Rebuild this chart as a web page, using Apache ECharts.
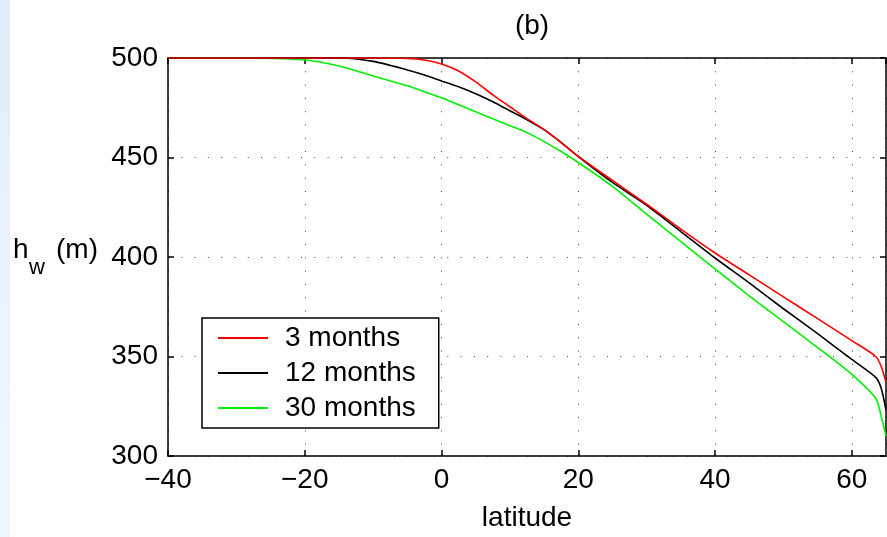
<!DOCTYPE html>
<html>
<head>
<meta charset="utf-8">
<script src="https://cdn.jsdelivr.net/npm/echarts@6/dist/echarts.min.js"></script>
<style>
  html, body { margin: 0; padding: 0; background: #fff; }
  #chart { width: 887px; height: 537px; }
</style>
</head>
<body>
<div id="chart"></div>
<script>
  // latitude samples (deg) shared by all three curves
  var latitude = [-40, -30, -20, -15, -10, -5, -2.5, 0, 2.5, 5, 7.5, 10, 12.5, 15, 17.5, 20, 25, 30, 35, 40, 45, 50, 55, 60, 63.5, 64.3, 65];
  // h_w (m)
  var months3 = [500, 500, 500, 500, 500, 499.8, 499, 497, 493.5, 488, 481.5, 475.5, 469.5, 464, 457.5, 450.6, 438.5, 426.5, 414, 402, 391, 380, 369, 358, 350, 345, 337];
  var months12 = [500, 500, 500, 500, 498.3, 494, 491.5, 488.5, 485.5, 482, 478, 473.5, 469, 464, 457.5, 450.5, 437.5, 426, 412.8, 399.5, 387, 374, 361.5, 348.5, 339.5, 334, 323];
  var months30 = [500, 500, 499, 496, 491, 486, 483, 480, 476.5, 473, 469.5, 466, 462.5, 458, 453, 447.5, 435.5, 421.5, 407.7, 394, 380.5, 367.5, 354.5, 341, 329, 320, 310];
  var seriesNames = ['3 months', '12 months', '30 months'];
  var seriesColors = ['#ff0000', '#000000', '#00f000'];

  var FONT = '"Liberation Sans", Arial, Helvetica, sans-serif';

  function pairs(arr) {
    return latitude.map(function (x, i) { return [x, arr[i]]; });
  }

  var myChart = echarts.init(document.getElementById('chart'));

  var series = [months3, months12, months30].map(function (arr, i) {
    return {
      name: seriesNames[i],
      type: 'line',
      data: pairs(arr),
      symbol: 'none',
      showSymbol: false,
      smooth: 0.25,
      lineStyle: { color: seriesColors[i], width: 1.6 },
      itemStyle: { color: seriesColors[i] },
      z: 3 - i
    };
  });

  // mirror axes (top / right) only carry the inside ticks
  var tickStyle = { show: true, inside: true, length: 6, lineStyle: { color: '#000', width: 1.5 } };
  var lineStyleAxis = { show: true, onZero: false, lineStyle: { color: '#000', width: 1.5 } };
  var dotted = { show: true, lineStyle: { color: '#444', width: 1, type: [1, 12.3] } };

  myChart.setOption({
    animation: false,
    backgroundColor: '#fff',
    textStyle: { fontFamily: FONT },
    title: {
      text: '(b)',
      left: 527,
      top: 7,
      textAlign: 'center',
      textStyle: { fontFamily: FONT, fontSize: 28, fontWeight: 'normal', color: '#000' }
    },
    grid: { left: 168, top: 58, width: 718, height: 404 },
    legend: {
      orient: 'vertical',
      left: 202,
      top: 318,
      data: seriesNames,
      icon: 'rect',
      itemWidth: 50,
      itemHeight: 2,
      itemGap: 7,
      padding: [6, 23, 6, 16],
      backgroundColor: '#fff',
      borderColor: '#000',
      borderWidth: 1.5,
      borderRadius: 0,
      textStyle: { fontFamily: FONT, fontSize: 28, color: '#000', lineHeight: 27, padding: [0, 0, 0, 12] }
    },
    xAxis: [{
      type: 'value',
      min: -40,
      max: 65,
      interval: 20,
      name: 'latitude',
      nameLocation: 'middle',
      nameGap: 48,
      nameTextStyle: { fontFamily: FONT, fontSize: 28, color: '#000' },
      axisLine: lineStyleAxis,
      axisTick: tickStyle,
      axisLabel: {
        fontFamily: FONT, fontSize: 28, color: '#000', margin: 10, showMaxLabel: false,
        formatter: function (v) { return String(v).replace('-', '\u2212'); }
      },
      splitLine: dotted
    }, {
      type: 'value',
      position: 'top',
      min: -40,
      max: 65,
      interval: 20,
      axisLine: lineStyleAxis,
      axisTick: tickStyle,
      axisLabel: { show: false },
      splitLine: { show: false }
    }],
    yAxis: [{
      type: 'value',
      min: 300,
      max: 500,
      interval: 50,
      axisLine: lineStyleAxis,
      axisTick: tickStyle,
      axisLabel: { fontFamily: FONT, fontSize: 28, color: '#000', margin: 10 },
      splitLine: dotted
    }, {
      type: 'value',
      position: 'right',
      min: 300,
      max: 500,
      interval: 50,
      axisLine: lineStyleAxis,
      axisTick: tickStyle,
      axisLabel: { show: false },
      splitLine: { show: false }
    }],
    graphic: [
      {
        type: 'rect',
        left: 0, top: 0,
        shape: { width: 10, height: 537 },
        style: {
          fill: new echarts.graphic.LinearGradient(0, 0, 0, 1, [
            { offset: 0, color: '#e3eefc' },
            { offset: 1, color: '#f0f6fe' }
          ])
        },
        silent: true
      },
      { type: 'text', left: 13, top: 236, style: { text: 'h', font: '28px ' + FONT, fill: '#000' } },
      { type: 'text', left: 29, top: 257, style: { text: 'w', font: '22px ' + FONT, fill: '#000' } },
      { type: 'text', left: 56, top: 236, style: { text: '(m)', font: '28px ' + FONT, fill: '#000' } }
    ],
    series: series
  });
</script>
</body>
</html>
